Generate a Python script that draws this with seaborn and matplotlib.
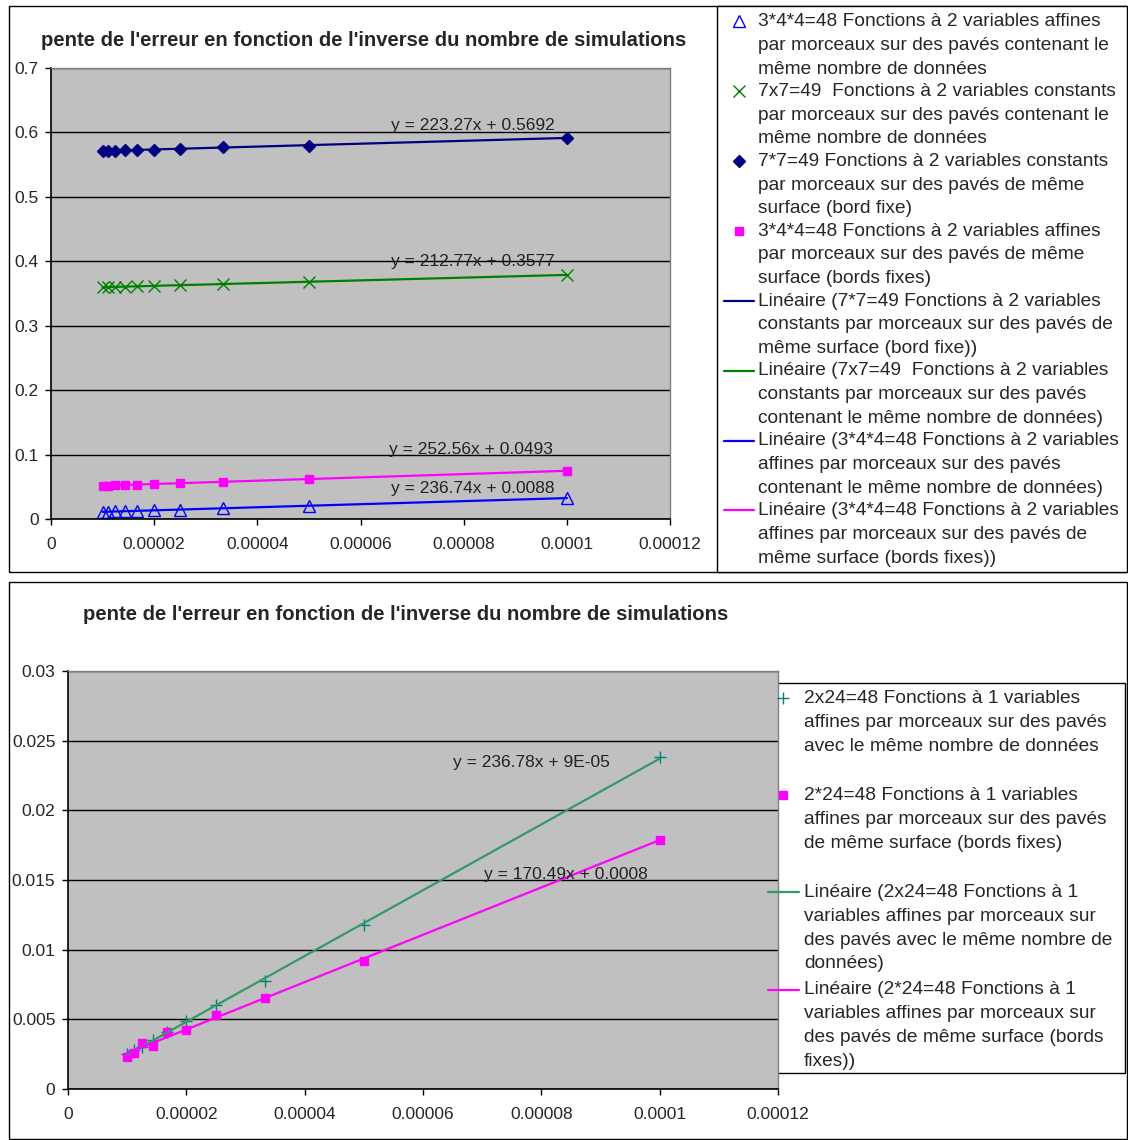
import matplotlib
matplotlib.use("Agg")
import matplotlib.pyplot as plt
import matplotlib.transforms as mtransforms
from matplotlib.patches import Rectangle
from matplotlib.ticker import FuncFormatter, MultipleLocator
import seaborn as sns

# 1. Données : inverse du nombre de simulations (10000 ... 100000)
inv_n = [1e-5, 1.111e-5, 1.25e-5, 1.429e-5, 1.667e-5, 2e-5, 2.5e-5, 3.333e-5, 5e-5, 1e-4]

# graphique du haut
aff_meme_nb = [0.0110, 0.0115, 0.0117, 0.0121, 0.0126, 0.0135, 0.0147, 0.0167, 0.0205, 0.0325]
const_meme_nb = [0.3597, 0.3600, 0.3601, 0.3604, 0.3611, 0.3620, 0.3631, 0.3647, 0.3686, 0.3787]
const_surface = [0.5716, 0.5714, 0.5719, 0.5726, 0.5727, 0.5735, 0.5749, 0.5768, 0.5793, 0.5918]
aff_surface = [0.0516, 0.0519, 0.0522, 0.0530, 0.0535, 0.0544, 0.0556, 0.0578, 0.0627, 0.0745]
eq_haut = ["y = 223.27x + 0.5692", "y = 212.77x + 0.3577", "y = 252.56x + 0.0493", "y = 236.74x + 0.0088"]

# graphique du bas
var1_meme_nb = [0.0025, 0.0028, 0.0030, 0.0035, 0.0041, 0.0049, 0.0060, 0.00775, 0.0118, 0.0238]
var1_surface = [0.0023, 0.0026, 0.0033, 0.0031, 0.0041, 0.0042, 0.0053, 0.0065, 0.0092, 0.0179]
eq_bas = ["y = 236.78x + 9E-05", "y = 170.49x + 0.0008"]

titre = "pente de l'erreur en fonction de l'inverse du nombre de simulations"

lab_haut = [
    "3*4*4=48 Fonctions à 2 variables affines\npar morceaux sur des pavés contenant le\nmême nombre de données",
    "7x7=49  Fonctions à 2 variables constants\npar morceaux sur des pavés contenant le\nmême nombre de données",
    "7*7=49 Fonctions à 2 variables constants\npar morceaux sur des pavés de même\nsurface (bord fixe)",
    "3*4*4=48 Fonctions à 2 variables affines\npar morceaux sur des pavés de même\nsurface (bords fixes)",
    "Linéaire (7*7=49 Fonctions à 2 variables\nconstants par morceaux sur des pavés de\nmême surface (bord fixe))",
    "Linéaire (7x7=49  Fonctions à 2 variables\nconstants par morceaux sur des pavés\ncontenant le même nombre de données)",
    "Linéaire (3*4*4=48 Fonctions à 2 variables\naffines par morceaux sur des pavés\ncontenant le même nombre de données)",
    "Linéaire (3*4*4=48 Fonctions à 2 variables\naffines par morceaux sur des pavés de\nmême surface (bords fixes))",
]
lab_bas = [
    "2x24=48 Fonctions à 1 variables\naffines par morceaux sur des pavés\navec le même nombre de données\n",
    "2*24=48 Fonctions à 1 variables\naffines par morceaux sur des pavés\nde même surface (bords fixes)\n",
    "Linéaire (2x24=48 Fonctions à 1\nvariables affines par morceaux sur\ndes pavés avec le même nombre de\ndonnées)",
    "Linéaire (2*24=48 Fonctions à 1\nvariables affines par morceaux sur\ndes pavés de même surface (bords\nfixes))",
]

# 2. Style
sns.set_theme(style="white")
plt.rcParams["font.family"] = ["Liberation Sans", "DejaVu Sans"]
FS = 12.5       # graduations et équations
FS_LEG = 13.8   # légendes
FS_TIT = 14.6   # titres
W, H = 1128, 1140


def fmt_num(v, pos=None):
    if abs(v) < 1e-12:
        return "0"
    return f"{v:.6f}".rstrip("0").rstrip(".")


def points(ax, y, color, marker, ms, label, ouvert=False):
    sns.lineplot(x=inv_n, y=y, ax=ax, color=color, marker=marker, linestyle="",
                 markersize=ms, markeredgecolor=color, markeredgewidth=1.0,
                 markerfacecolor="none" if ouvert else color, label=label, legend=False)
    return ax.lines[-1]


def tendance(ax, y, color, label):
    sns.regplot(x=inv_n, y=y, ax=ax, scatter=False, ci=None, truncate=True,
                color=color, line_kws={"lw": 1.6, "label": label})
    return ax.lines[-1]


def habiller(ax, ymax, ystep):
    ax.set_facecolor("#C0C0C0")
    ax.set_xlim(0, 0.00012)
    ax.set_ylim(0, ymax)
    ax.xaxis.set_major_locator(MultipleLocator(0.00002))
    ax.yaxis.set_major_locator(MultipleLocator(ystep))
    ax.xaxis.set_major_formatter(FuncFormatter(fmt_num))
    ax.yaxis.set_major_formatter(FuncFormatter(fmt_num))
    ax.grid(axis="y", color="black", lw=1.0)
    ax.grid(axis="x", visible=False)
    ax.set_axisbelow(True)
    for s in ["left", "bottom"]:
        ax.spines[s].set_color("black")
        ax.spines[s].set_linewidth(1.2)
    for s in ["top", "right"]:
        ax.spines[s].set_color("#808080")
        ax.spines[s].set_linewidth(1.0)
    ax.tick_params(axis="x", direction="out", length=4, width=1, color="black",
                   labelsize=FS, pad=9, bottom=True)
    ax.tick_params(axis="y", direction="out", length=4, width=1, color="black",
                   labelsize=FS, pad=5, left=True)
    ax.set_xlabel("")
    ax.set_ylabel("")


def cadre(fig, x0, y0, x1, y1, color="black"):
    fig.add_artist(Rectangle((x0 / W, 1 - y1 / H), (x1 - x0) / W, (y1 - y0) / H,
                             transform=fig.transFigure, fill=True, facecolor="white",
                             edgecolor=color, lw=1.0, zorder=0))


def aligner_marqueurs(fig, leg):
    # place le symbole de légende sur la première ligne du texte (comme Excel)
    fig.canvas.draw()
    r = fig.canvas.get_renderer()
    for h, t in zip(leg.legend_handles, leg.get_texts()):
        if "\n" not in t.get_text():
            continue
        full = t.get_window_extent(r).height
        probe = fig.text(0, 0, "Lp", fontproperties=t.get_fontproperties())
        single = probe.get_window_extent(r).height
        probe.remove()
        dy = (full - single) / 2
        h.set_transform(h.get_transform() + mtransforms.Affine2D().translate(0, dy))


# 3. Figure
fig = plt.figure(figsize=(W / 100, H / 100), dpi=100)
fig.patch.set_facecolor("white")
cadre(fig, 9, 6, 1127, 572)
cadre(fig, 717, 6, 1127, 572)
cadre(fig, 9, 582, 1127, 1139)

# graphique du haut
ax1 = fig.add_axes([51 / W, 1 - 519 / H, 619 / W, 451 / H])
h_tri = points(ax1, aff_meme_nb, "#0000FF", "^", 8, lab_haut[0], ouvert=True)
h_x = points(ax1, const_meme_nb, "#008000", "x", 8, lab_haut[1])
h_dia = points(ax1, const_surface, "#000080", "D", 6.5, lab_haut[2])
h_sq = points(ax1, aff_surface, "#FF00FF", "s", 5.5, lab_haut[3])
l_dia = tendance(ax1, const_surface, "#000080", lab_haut[4])
l_x = tendance(ax1, const_meme_nb, "#008000", lab_haut[5])
l_tri = tendance(ax1, aff_meme_nb, "#0000FF", lab_haut[6])
l_sq = tendance(ax1, aff_surface, "#FF00FF", lab_haut[7])
habiller(ax1, 0.7, 0.1)
for txt, (x, y) in zip(eq_haut, [(8.18e-5, 0.6115), (8.18e-5, 0.4004), (8.14e-5, 0.1071), (8.18e-5, 0.0481)]):
    ax1.text(x, y, txt, ha="center", va="center", fontsize=FS, color="#222222")
fig.text(364 / W, 1 - 40 / H, titre, ha="center", va="center", fontsize=FS_TIT, fontweight="bold")

leg1 = fig.legend([h_tri, h_x, h_dia, h_sq, l_dia, l_x, l_tri, l_sq], lab_haut,
                  loc="upper left", bbox_to_anchor=(724 / W, 1 - 13 / H),
                  bbox_transform=fig.transFigure, frameon=False, fontsize=FS_LEG,
                  borderpad=0, borderaxespad=0, handlelength=1.59, handletextpad=0.2,
                  labelspacing=0.28, numpoints=1)
for t in leg1.get_texts():
    t.set_linespacing(1.52)

# graphique du bas
ax2 = fig.add_axes([68 / W, 1 - 1089 / H, 710 / W, 418 / H])
h_plus = points(ax2, var1_meme_nb, "#008080", "+", 9, lab_bas[0])
h_sq2 = points(ax2, var1_surface, "#FF00FF", "s", 5.5, lab_bas[1])
l_plus = tendance(ax2, var1_meme_nb, "#339966", lab_bas[2])
l_sq2 = tendance(ax2, var1_surface, "#FF00FF", lab_bas[3])
habiller(ax2, 0.03, 0.005)
for txt, (x, y) in zip(eq_bas, [(7.83e-5, 0.0234), (8.42e-5, 0.01536)]):
    ax2.text(x, y, txt, ha="center", va="center", fontsize=FS, color="#222222")
fig.text(406 / W, 1 - 615 / H, titre, ha="center", va="center", fontsize=FS_TIT, fontweight="bold")

cadre(fig, 754, 683, 1125, 1073)
leg2 = fig.legend([h_plus, h_sq2, l_plus, l_sq2], lab_bas,
                  loc="upper left", bbox_to_anchor=(768 / W, 1 - 690 / H),
                  bbox_transform=fig.transFigure, frameon=False, fontsize=FS_LEG,
                  borderpad=0, borderaxespad=0, handlelength=1.6, handletextpad=0.27,
                  labelspacing=0.46, numpoints=1)
for t in leg2.get_texts():
    t.set_linespacing(1.52)

aligner_marqueurs(fig, leg1)
aligner_marqueurs(fig, leg2)

# 4. Sauvegarde
fig.savefig("out.png", dpi=100)
plt.close(fig)
